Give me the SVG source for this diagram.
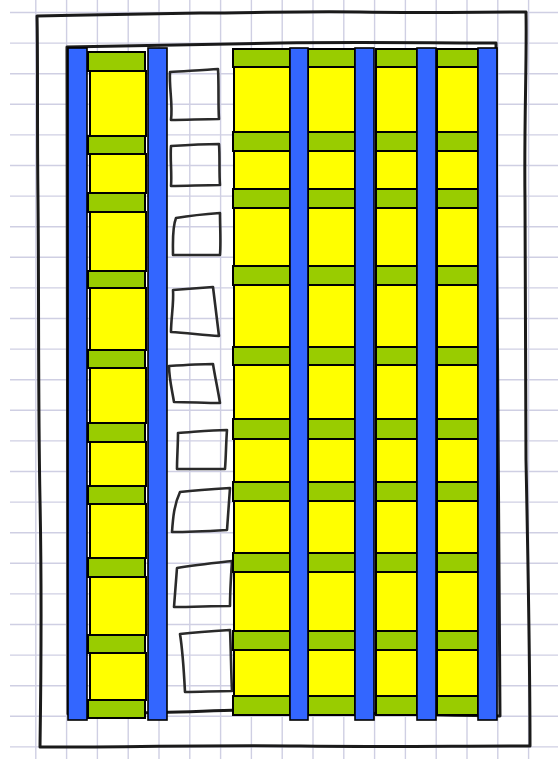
<svg xmlns="http://www.w3.org/2000/svg" width="558" height="759" viewBox="0 0 558 759">
<style>
.grid line{stroke:#cfcfe3;stroke-width:1.4}
.hand{fill:none;stroke:#1a1a1a;stroke-width:3;stroke-linejoin:round;stroke-linecap:round}
.sq{fill:none;stroke:#2a2a2a;stroke-width:2.6;stroke-linejoin:round;stroke-linecap:round}
.y{fill:#ffff00;stroke:#000;stroke-width:2}
.g{fill:#99cc00;stroke:#000;stroke-width:2}
.b{fill:#3366ff;stroke:#000;stroke-width:1.6}
</style>
<rect width="558" height="759" fill="#ffffff"/>
<g id="grid" class="grid">
<line x1="35.8" y1="0" x2="35.8" y2="759"/><line x1="66.6" y1="0" x2="66.6" y2="759"/><line x1="97.4" y1="0" x2="97.4" y2="759"/><line x1="128.2" y1="0" x2="128.2" y2="759"/><line x1="159" y1="0" x2="159" y2="759"/><line x1="189.8" y1="0" x2="189.8" y2="759"/><line x1="220.6" y1="0" x2="220.6" y2="759"/><line x1="251.4" y1="0" x2="251.4" y2="759"/><line x1="282.2" y1="0" x2="282.2" y2="759"/><line x1="313" y1="0" x2="313" y2="759"/><line x1="343.8" y1="0" x2="343.8" y2="759"/><line x1="374.6" y1="0" x2="374.6" y2="759"/><line x1="405.4" y1="0" x2="405.4" y2="759"/><line x1="436.2" y1="0" x2="436.2" y2="759"/><line x1="467" y1="0" x2="467" y2="759"/><line x1="497.8" y1="0" x2="497.8" y2="759"/><line x1="528.6" y1="0" x2="528.6" y2="759"/>
<line x1="10" y1="12.5" x2="558" y2="12.5"/><line x1="10" y1="43.1" x2="558" y2="43.1"/><line x1="10" y1="73.7" x2="558" y2="73.7"/><line x1="10" y1="104.3" x2="558" y2="104.3"/><line x1="10" y1="134.9" x2="558" y2="134.9"/><line x1="10" y1="165.5" x2="558" y2="165.5"/><line x1="10" y1="196.1" x2="558" y2="196.1"/><line x1="10" y1="226.7" x2="558" y2="226.7"/><line x1="10" y1="257.3" x2="558" y2="257.3"/><line x1="10" y1="287.9" x2="558" y2="287.9"/><line x1="10" y1="318.5" x2="558" y2="318.5"/><line x1="10" y1="349.1" x2="558" y2="349.1"/><line x1="10" y1="379.7" x2="558" y2="379.7"/><line x1="10" y1="410.3" x2="558" y2="410.3"/><line x1="10" y1="440.9" x2="558" y2="440.9"/><line x1="10" y1="471.5" x2="558" y2="471.5"/><line x1="10" y1="502.1" x2="558" y2="502.1"/><line x1="10" y1="532.7" x2="558" y2="532.7"/><line x1="10" y1="563.3" x2="558" y2="563.3"/><line x1="10" y1="593.9" x2="558" y2="593.9"/><line x1="10" y1="624.5" x2="558" y2="624.5"/><line x1="10" y1="655.1" x2="558" y2="655.1"/><line x1="10" y1="685.7" x2="558" y2="685.7"/><line x1="10" y1="716.3" x2="558" y2="716.3"/><line x1="10" y1="746.9" x2="558" y2="746.9"/>
</g>
<g id="outer-frame">
<path class="hand" d="M37,16 C90,15 140,14 200,13 C260,13 300,11 360,12 C420,13 480,12 526,12 C527,60 524,120 525,200 C526,300 525,380 526,460 C528,560 530,660 530,746 C450,746 380,747 300,746 C220,745 120,747 40,747 C41,680 42,600 40,500 C38,400 39,300 38,200 C37,120 38,60 37,16"/>
</g>
<g id="inner-frame">
<path class="hand" d="M67,47 C140,45 210,44 280,43 C360,42 430,43 496,43 C496,150 497,300 498,420 C499,540 500,640 500,716 C420,715 320,712 240,710 C200,711 170,713 120,713 L68,714 L67,47"/>
</g>
<g id="sketch-squares">
<path id="sq1" class="sq" d="M170,72 C185,71 205,70 218,69 C219,85 218,105 219,119 C203,119 186,120 171,120 C173,104 169,88 170,72 Z"/>
<path id="sq2" class="sq" d="M171,146 C186,145 204,144 219,144 C220,158 219,172 220,185 C204,185 186,186 171,186 C172,173 170,159 171,146 Z"/>
<path id="sq3" class="sq" d="M176,218 C188,216 206,214 220,213 C220,227 221,242 220,255 C205,255 188,255 173,255 C173,242 172,228 176,218 Z"/>
<path id="sq4" class="sq" d="M173,290 C187,289 200,288 213,287 C215,303 217,320 219,336 C203,335 187,333 171,332 C171,318 174,303 173,290 Z"/>
<path id="sq5" class="sq" d="M169,366 C184,365 199,364 213,364 C215,377 218,390 220,403 C205,403 189,402 174,402 C172,390 169,378 169,366 Z"/>
<path id="sq6" class="sq" d="M178,433 C194,432 211,430 227,430 C226,443 226,456 225,469 C209,469 193,469 177,469 C177,457 178,445 178,433 Z"/>
<path id="sq7" class="sq" d="M180,492 C197,490 213,489 230,488 C229,502 228,516 227,530 C209,531 191,532 172,532 C173,518 174,505 180,492 Z"/>
<path id="sq8" class="sq" d="M177,568 C195,565 214,563 232,561 C231,576 230,591 230,606 C212,606 193,607 174,607 C175,594 176,581 177,568 Z"/>
<path id="sq9" class="sq" d="M180,634 C197,632 213,631 230,630 C231,650 231,671 232,691 C216,691 200,692 185,692 C184,673 183,653 180,634 Z"/>
</g>
<g id="column-a">
<rect class="y" x="90" y="71" width="56" height="65"/>
<rect class="y" x="90" y="154" width="56" height="39"/>
<rect class="y" x="90" y="212" width="56" height="59"/>
<rect class="y" x="90" y="288" width="56" height="62"/>
<rect class="y" x="90" y="368" width="56" height="55"/>
<rect class="y" x="90" y="442" width="56" height="44"/>
<rect class="y" x="90" y="504" width="56" height="54"/>
<rect class="y" x="90" y="577" width="56" height="58"/>
<rect class="y" x="90" y="653" width="56" height="47"/>
<rect class="g" x="88" y="52" width="57" height="19"/>
<rect class="g" x="88" y="136" width="57" height="18"/>
<rect class="g" x="88" y="193" width="57" height="19"/>
<rect class="g" x="88" y="271" width="57" height="17"/>
<rect class="g" x="88" y="350" width="57" height="18"/>
<rect class="g" x="88" y="423" width="57" height="19"/>
<rect class="g" x="88" y="486" width="57" height="18"/>
<rect class="g" x="88" y="558" width="57" height="19"/>
<rect class="g" x="88" y="635" width="57" height="18"/>
<rect class="g" x="88" y="700" width="57" height="18"/>
</g>
<g id="column-b">
<rect class="y" x="234" y="67" width="56" height="65"/>
<rect class="y" x="234" y="151" width="56" height="38"/>
<rect class="y" x="234" y="208" width="56" height="58"/>
<rect class="y" x="234" y="285" width="56" height="62"/>
<rect class="y" x="234" y="365" width="56" height="54"/>
<rect class="y" x="234" y="439" width="56" height="43"/>
<rect class="y" x="234" y="501" width="56" height="52"/>
<rect class="y" x="234" y="572" width="56" height="59"/>
<rect class="y" x="234" y="650" width="56" height="46"/>
<rect class="g" x="233" y="49" width="57" height="18"/>
<rect class="g" x="233" y="132" width="57" height="19"/>
<rect class="g" x="233" y="189" width="57" height="19"/>
<rect class="g" x="233" y="266" width="57" height="19"/>
<rect class="g" x="233" y="347" width="57" height="18"/>
<rect class="g" x="233" y="419" width="57" height="20"/>
<rect class="g" x="233" y="482" width="57" height="19"/>
<rect class="g" x="233" y="553" width="57" height="19"/>
<rect class="g" x="233" y="631" width="57" height="19"/>
<rect class="g" x="233" y="696" width="57" height="19"/>
</g>
<g id="column-c">
<rect class="y" x="308" y="67" width="47" height="65"/>
<rect class="y" x="308" y="151" width="47" height="38"/>
<rect class="y" x="308" y="208" width="47" height="58"/>
<rect class="y" x="308" y="285" width="47" height="62"/>
<rect class="y" x="308" y="365" width="47" height="54"/>
<rect class="y" x="308" y="439" width="47" height="43"/>
<rect class="y" x="308" y="501" width="47" height="52"/>
<rect class="y" x="308" y="572" width="47" height="59"/>
<rect class="y" x="308" y="650" width="47" height="46"/>
<rect class="g" x="308" y="49" width="47" height="18"/>
<rect class="g" x="308" y="132" width="47" height="19"/>
<rect class="g" x="308" y="189" width="47" height="19"/>
<rect class="g" x="308" y="266" width="47" height="19"/>
<rect class="g" x="308" y="347" width="47" height="18"/>
<rect class="g" x="308" y="419" width="47" height="20"/>
<rect class="g" x="308" y="482" width="47" height="19"/>
<rect class="g" x="308" y="553" width="47" height="19"/>
<rect class="g" x="308" y="631" width="47" height="19"/>
<rect class="g" x="308" y="696" width="47" height="19"/>
</g>
<g id="column-d">
<rect class="y" x="376" y="67" width="41" height="65"/>
<rect class="y" x="376" y="151" width="41" height="38"/>
<rect class="y" x="376" y="208" width="41" height="58"/>
<rect class="y" x="376" y="285" width="41" height="62"/>
<rect class="y" x="376" y="365" width="41" height="54"/>
<rect class="y" x="376" y="439" width="41" height="43"/>
<rect class="y" x="376" y="501" width="41" height="52"/>
<rect class="y" x="376" y="572" width="41" height="59"/>
<rect class="y" x="376" y="650" width="41" height="46"/>
<rect class="g" x="376" y="49" width="41" height="18"/>
<rect class="g" x="376" y="132" width="41" height="19"/>
<rect class="g" x="376" y="189" width="41" height="19"/>
<rect class="g" x="376" y="266" width="41" height="19"/>
<rect class="g" x="376" y="347" width="41" height="18"/>
<rect class="g" x="376" y="419" width="41" height="20"/>
<rect class="g" x="376" y="482" width="41" height="19"/>
<rect class="g" x="376" y="553" width="41" height="19"/>
<rect class="g" x="376" y="631" width="41" height="19"/>
<rect class="g" x="376" y="696" width="41" height="19"/>
</g>
<g id="column-e">
<rect class="y" x="437" y="67" width="41" height="65"/>
<rect class="y" x="437" y="151" width="41" height="38"/>
<rect class="y" x="437" y="208" width="41" height="58"/>
<rect class="y" x="437" y="285" width="41" height="62"/>
<rect class="y" x="437" y="365" width="41" height="54"/>
<rect class="y" x="437" y="439" width="41" height="43"/>
<rect class="y" x="437" y="501" width="41" height="52"/>
<rect class="y" x="437" y="572" width="41" height="59"/>
<rect class="y" x="437" y="650" width="41" height="46"/>
<rect class="g" x="437" y="49" width="41" height="18"/>
<rect class="g" x="437" y="132" width="41" height="19"/>
<rect class="g" x="437" y="189" width="41" height="19"/>
<rect class="g" x="437" y="266" width="41" height="19"/>
<rect class="g" x="437" y="347" width="41" height="18"/>
<rect class="g" x="437" y="419" width="41" height="20"/>
<rect class="g" x="437" y="482" width="41" height="19"/>
<rect class="g" x="437" y="553" width="41" height="19"/>
<rect class="g" x="437" y="631" width="41" height="19"/>
<rect class="g" x="437" y="696" width="41" height="19"/>
</g>
<g id="blue-bars">
<rect id="bar1" class="b" x="68" y="48" width="19" height="672"/>
<rect id="bar2" class="b" x="148" y="48" width="19" height="672"/>
<rect id="bar3" class="b" x="290" y="48" width="18" height="672"/>
<rect id="bar4" class="b" x="355" y="48" width="19" height="672"/>
<rect id="bar5" class="b" x="417" y="48" width="19" height="672"/>
<rect id="bar6" class="b" x="478" y="48" width="19" height="672"/>
</g>
</svg>
